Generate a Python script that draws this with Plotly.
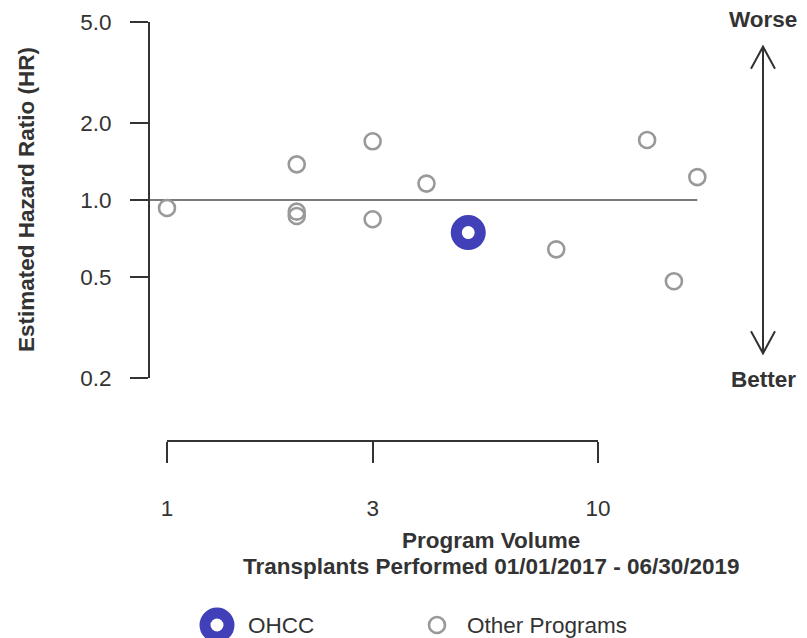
import math
import plotly.graph_objects as go

# Program volume (transplants) and estimated hazard ratio for each program
volume = [1, 2, 2, 2, 3, 3, 4, 5, 8, 13, 15, 17]
hazard_ratio = [0.93, 1.38, 0.90, 0.865, 1.70, 0.84, 1.16, 0.745, 0.64, 1.72, 0.48, 1.23]

# Highlighted program
ohcc_volume = [5]
ohcc_hr = [0.745]

# Axis ticks
y_tickvals = [0.2, 0.5, 1.0, 2.0, 5.0]
y_ticktext = ["0.2", "0.5", "1.0", "2.0", "5.0"]
x_tickvals = [1, 3, 10]
x_ticktext = ["1", "3", "10"]

W, H = 807, 638
FONT = "Liberation Sans, Arial, sans-serif"
FSIZE = 22.5
TXT = "#333333"
GREY = "#999999"
BLUE = "#4240B8"


def fx(p):
    return p / W


def fy(p):
    return 1 - p / H


# horizontal layout: log10 units per pixel on the volume axis
x_left_px, x_right_px = 150, 790
x_one_px, x_ten_px = 167, 598
per_decade = x_ten_px - x_one_px
x_range = [(x_left_px - x_one_px) / per_decade, (x_right_px - x_one_px) / per_decade]

fig = go.Figure()

# reference line at HR = 1
fig.add_trace(go.Scatter(
    x=[10 ** x_range[0], max(volume)], y=[1, 1], mode="lines",
    line=dict(color="#7a7a7a", width=2.2), hoverinfo="skip", showlegend=False,
    xaxis="x", yaxis="y",
))

fig.add_trace(go.Scatter(
    x=volume, y=hazard_ratio, mode="markers", name="Other Programs",
    marker=dict(symbol="circle-open", size=16, color=GREY, line=dict(width=2.6, color=GREY)),
    showlegend=False, xaxis="x", yaxis="y",
))

fig.add_trace(go.Scatter(
    x=ohcc_volume, y=ohcc_hr, mode="markers", name="OHCC",
    marker=dict(symbol="circle-open", size=24, color=BLUE, line=dict(width=11, color=BLUE)),
    showlegend=False, xaxis="x", yaxis="y",
))

# carrier trace for the volume axis drawn below the panel
fig.add_trace(go.Scatter(
    x=x_tickvals, y=[1] * len(x_tickvals), mode="markers",
    marker=dict(opacity=0), hoverinfo="skip", showlegend=False,
    xaxis="x2", yaxis="y",
))

axis_common = dict(showgrid=False, zeroline=False, linecolor=TXT, linewidth=2,
                   tickcolor=TXT, tickwidth=2, ticks="outside", automargin=False,
                   tickfont=dict(family=FONT, size=FSIZE, color=TXT))

fig.update_layout(
    template="none",
    width=W, height=H,
    margin=dict(l=0, r=0, t=0, b=0, pad=0),
    paper_bgcolor="white", plot_bgcolor="rgba(0,0,0,0)",
    showlegend=False,
    font=dict(family=FONT, color=TXT),
    xaxis=dict(domain=[fx(x_left_px), fx(x_right_px)], type="log", range=x_range,
               visible=False, anchor="y", automargin=False),
    yaxis=dict(domain=[fy(378), fy(22)], type="log",
               range=[math.log10(0.2), math.log10(5.0)],
               showline=True, ticklen=18, tickvals=y_tickvals, ticktext=y_ticktext,
               ticklabelstandoff=14, anchor="x", **axis_common),
    xaxis2=dict(domain=[fx(x_one_px), fx(x_ten_px)], type="log", range=[0, 1],
                anchor="free", position=fy(441), showline=True, ticklen=21,
                tickvals=x_tickvals, ticktext=x_ticktext, ticklabelstandoff=26,
                **axis_common),
)

# "Worse" / "Better" double arrow
arrow_x = fx(763)
fig.add_shape(type="line", xref="paper", yref="y", x0=arrow_x, x1=arrow_x, y0=0.25, y1=4,
              line=dict(color=TXT, width=2))
fig.add_shape(type="path", xref="paper", yref="y", xsizemode="pixel", ysizemode="pixel",
              xanchor=arrow_x, yanchor=4, path="M-12,-22 L0,0 L12,-22",
              line=dict(color=TXT, width=2))
fig.add_shape(type="path", xref="paper", yref="y", xsizemode="pixel", ysizemode="pixel",
              xanchor=arrow_x, yanchor=0.25, path="M-12,22 L0,0 L12,22",
              line=dict(color=TXT, width=2))

bold = dict(family=FONT, size=FSIZE, color=TXT)
notes = [
    dict(text="<b>Worse</b>", x=fx(763), y=fy(20)),
    dict(text="<b>Better</b>", x=fx(763), y=fy(379)),
    dict(text="<b>Program Volume</b>", x=fx(491), y=fy(540)),
    dict(text="<b>Transplants Performed 01/01/2017 - 06/30/2019</b>", x=fx(491), y=fy(566)),
]
for n in notes:
    fig.add_annotation(xref="paper", yref="paper", showarrow=False, xanchor="center",
                       yanchor="middle", font=bold, **n)

fig.add_annotation(text="<b>Estimated Hazard Ratio (HR)</b>", xref="paper", yref="paper",
                   x=fx(26), y=fy(200), textangle=-90, showarrow=False,
                   xanchor="center", yanchor="middle", font=bold)

# legend keys
legend_y = fy(625)
fig.add_shape(type="circle", xref="paper", yref="paper", xsizemode="pixel", ysizemode="pixel",
              xanchor=fx(217), yanchor=legend_y, x0=-12, x1=12, y0=-12, y1=12,
              line=dict(color=BLUE, width=11))
fig.add_shape(type="circle", xref="paper", yref="paper", xsizemode="pixel", ysizemode="pixel",
              xanchor=fx(437), yanchor=legend_y, x0=-8, x1=8, y0=-8, y1=8,
              line=dict(color=GREY, width=2.6))
plain = dict(family=FONT, size=FSIZE, color=TXT)
fig.add_annotation(text="OHCC", xref="paper", yref="paper", x=fx(246), y=legend_y,
                   showarrow=False, xanchor="left", yanchor="middle", font=plain)
fig.add_annotation(text="Other Programs", xref="paper", yref="paper", x=fx(465), y=legend_y,
                   showarrow=False, xanchor="left", yanchor="middle", font=plain)

fig.write_html("out.html")
